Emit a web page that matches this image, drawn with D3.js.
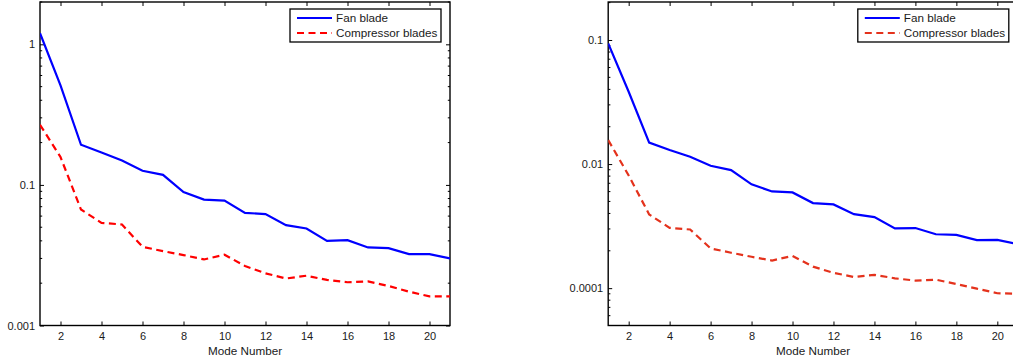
<!DOCTYPE html>
<html>
<head>
<meta charset="utf-8">
<script src="https://cdn.jsdelivr.net/npm/d3@7"></script>
<style>
  html, body { margin: 0; padding: 0; background: #fff; overflow: hidden; }
  svg { display: block; font-family: "Liberation Sans", Arial, sans-serif; }
</style>
</head>
<body>
<svg id="chart" width="1013" height="362"></svg>
<script>
// ---- data ----
const modes = [1,2,3,4,5,6,7,8,9,10,11,12,13,14,15,16,17,18,19,20,21];
const seriesNames = ["Fan blade", "Compressor blades"];

const leftFan = [1.20,0.51,0.193,0.170,0.149,0.126,0.118,0.089,0.0787,0.0774,0.0633,0.062,0.0517,0.049,0.040,0.0405,0.0359,0.0355,0.0322,0.0322,0.030];
const leftComp = [0.268,0.158,0.0668,0.0537,0.0523,0.0363,0.0338,0.0317,0.0295,0.0319,0.0265,0.0235,0.0216,0.0226,0.0211,0.0203,0.0206,0.0191,0.0174,0.0161,0.0161];

const rightFan = [0.094,0.0383,0.0149,0.0130,0.01146,0.0097,0.00895,0.00686,0.00602,0.00591,0.00485,0.00473,0.00395,0.00374,0.00303,0.00305,0.00272,0.00269,0.00244,0.00245,0.00226];
const rightComp = [0.0156,0.0081,0.00393,0.00306,0.00297,0.00209,0.00193,0.00179,0.00167,0.00182,0.00149,0.00133,0.00123,0.00128,0.00120,0.00115,0.00117,0.00108,0.00099,0.00091,0.00090];

const xTickValues = [2,4,6,8,10,12,14,16,18,20];
const leftYTickValues = [1, 0.1, 0.01];
const leftYTickLabels = ["1", "0.1", "0.001"];
const rightYTickValues = [0.1, 0.01, 0.001];
const rightYTickLabels = ["0.1", "0.01", "0.0001"];
const leftYDomain = [0.01, 2];
const rightYDomain = [0.0005, 0.2024];
const xDomain = [1, 21];
const xLabel = "Mode Number";

// ---- layout ----
const svg = d3.select("#chart");
const panels = [
  { left: 40, right: 450, top: 2, bottom: 325.5, fan: leftFan, comp: leftComp,
    yDomain: leftYDomain, yTicks: leftYTickValues, yLabels: leftYTickLabels,
    fanColor: "#0000ff", compColor: "#ff0000", id: "L" },
  { left: 608.2, right: 1017.8, top: 2, bottom: 325.5, fan: rightFan, comp: rightComp,
    yDomain: rightYDomain, yTicks: rightYTickValues, yLabels: rightYTickLabels,
    fanColor: "#0000ff", compColor: "#e4321c", id: "R" }
];

panels.forEach(p => {
  const x = d3.scaleLinear().domain(xDomain).range([p.left, p.right]);
  const y = d3.scaleLog().domain(p.yDomain).range([p.bottom, p.top]);
  const g = svg.append("g");

  const clipId = "clip" + p.id;
  svg.append("clipPath").attr("id", clipId)
    .append("rect").attr("x", p.left).attr("y", p.top)
    .attr("width", p.right - p.left).attr("height", p.bottom - p.top);

  const minor = y.ticks().filter(v => !p.yTicks.some(t => Math.abs(t - v) / v < 1e-6));

  // minor ticks (left and right edges)
  g.append("g").selectAll("line.minorL").data(minor).join("line")
    .attr("x1", p.left).attr("x2", p.left + 2.2)
    .attr("y1", d => y(d)).attr("y2", d => y(d))
    .attr("stroke", "#000").attr("stroke-width", 1);
  g.append("g").selectAll("line.minorR").data(minor).join("line")
    .attr("x1", p.right).attr("x2", p.right - 2.2)
    .attr("y1", d => y(d)).attr("y2", d => y(d))
    .attr("stroke", "#000").attr("stroke-width", 1);

  // y axis left
  const yAxis = d3.axisLeft(y).tickValues(p.yTicks)
    .tickFormat((d, i) => p.yLabels[i]).tickSizeInner(-4).tickSizeOuter(0).tickPadding(5);
  const ya = g.append("g").attr("transform", `translate(${p.left},0)`).call(yAxis);
  // y axis right mirror
  const yAxisR = d3.axisRight(y).tickValues(p.yTicks).tickFormat("")
    .tickSizeInner(-4).tickSizeOuter(0);
  const yb = g.append("g").attr("transform", `translate(${p.right},0)`).call(yAxisR);

  // x axis bottom
  const xAxis = d3.axisBottom(x).tickValues(xTickValues).tickFormat(d3.format("d"))
    .tickSizeInner(-4).tickSizeOuter(0).tickPadding(7);
  const xa = g.append("g").attr("transform", `translate(0,${p.bottom})`).call(xAxis);
  const xAxisT = d3.axisTop(x).tickValues(xTickValues).tickFormat("")
    .tickSizeInner(-4).tickSizeOuter(0);
  const xb = g.append("g").attr("transform", `translate(0,${p.top})`).call(xAxisT);

  [ya, yb, xa, xb].forEach(a => {
    a.select(".domain").remove();
    a.selectAll(".tick line").attr("stroke", "#000").attr("stroke-width", 1);
    a.selectAll("text").attr("font-size", 11).attr("fill", "#1a1a1a")
      .attr("font-family", "Liberation Sans, Arial, sans-serif");
  });

  // frame
  g.append("rect").attr("x", p.left).attr("y", p.top)
    .attr("width", p.right - p.left).attr("height", p.bottom - p.top)
    .attr("fill", "none").attr("stroke", "#000").attr("stroke-width", 1.4);

  // lines
  const line = d3.line().x((d, i) => x(modes[i])).y(d => y(d));
  const lg = g.append("g").attr("clip-path", `url(#${clipId})`);
  lg.append("path").datum(p.comp).attr("d", line)
    .attr("fill", "none").attr("stroke", p.compColor).attr("stroke-width", 2.2)
    .attr("stroke-dasharray", "7,4.5");
  lg.append("path").datum(p.fan).attr("d", line)
    .attr("fill", "none").attr("stroke", p.fanColor).attr("stroke-width", 2.2);

  // x label
  g.append("text").attr("x", (p.left + p.right) / 2).attr("y", 354.5)
    .attr("text-anchor", "middle").attr("font-size", 11.7).attr("fill", "#1a1a1a")
    .text(xLabel);

  // legend
  const lw = 151, lh = 33;
  const lx = p.right - 9 - lw, ly = 9;
  const leg = g.append("g");
  leg.append("rect").attr("x", lx).attr("y", ly).attr("width", lw).attr("height", lh)
    .attr("fill", "#fff").attr("stroke", "#000").attr("stroke-width", 1.3);
  const items = [
    { name: seriesNames[0], color: p.fanColor, dash: null },
    { name: seriesNames[1], color: p.compColor, dash: "7,4.5" }
  ];
  items.forEach((it, i) => {
    const cy = ly + 9 + i * 15;
    leg.append("line").attr("x1", lx + 7).attr("x2", lx + 42)
      .attr("y1", cy).attr("y2", cy)
      .attr("stroke", it.color).attr("stroke-width", 2.2)
      .attr("stroke-dasharray", it.dash);
    leg.append("text").attr("x", lx + 46).attr("y", cy + 4.2)
      .attr("font-size", 11.7).attr("fill", "#1a1a1a").text(it.name);
  });
});
</script>
</body>
</html>
